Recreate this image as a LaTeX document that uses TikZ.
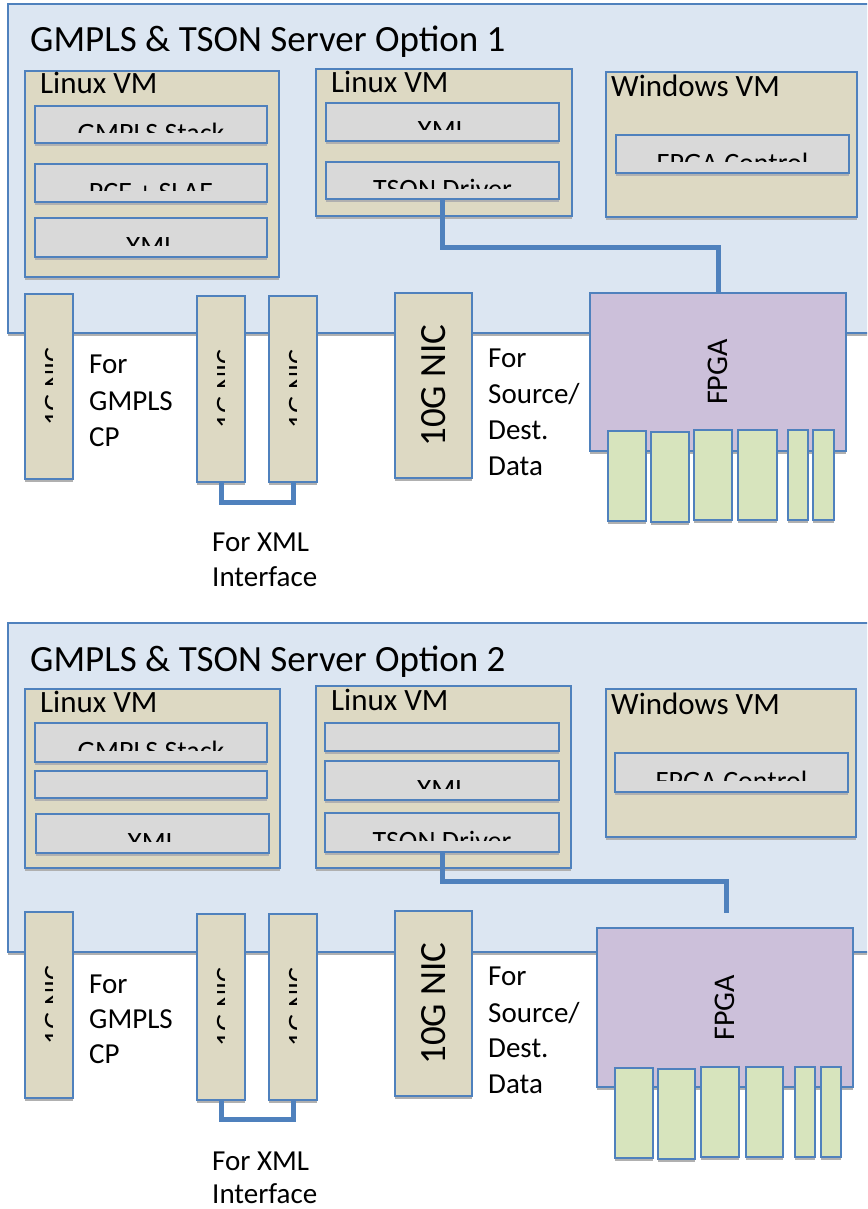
\documentclass[tikz,border=0pt]{standalone}
\usepackage{fontspec}
\setmainfont{Carlito}
\definecolor{panelblue}{HTML}{DCE6F2}
\definecolor{bordblue}{HTML}{4F81BD}
\definecolor{tanc}{HTML}{DDD9C3}
\definecolor{grayc}{HTML}{D9D9D9}
\definecolor{purplec}{HTML}{CCC0DA}
\definecolor{greenc}{HTML}{D7E4BD}
\definecolor{shadowc}{HTML}{B0B0B0}
\tikzset{
  basebox/.style={draw=bordblue, line width=1.8pt, inner sep=0pt, outer sep=0pt},
  panel/.style={basebox, fill=panelblue},
  vm/.style={basebox, fill=tanc},
  inbox/.style={basebox, fill=grayc},
  nicbox/.style={basebox, fill=tanc},
  fpgabox/.style={basebox, fill=purplec},
  portbox/.style={basebox, fill=greenc},
  conn/.style={draw=bordblue, line width=5pt},
  titletext/.style={inner sep=0pt, font=\fontsize{37}{44}\selectfont},
  vmtext/.style={inner sep=0pt, font=\fontsize{31}{37}\selectfont},
  intext/.style={inner sep=0pt, font=\fontsize{28}{34}\selectfont},
  sidetext/.style={inner sep=0pt, anchor=base west, font=\fontsize{29}{35}\selectfont},
  bigrot/.style={inner sep=0pt, rotate=90, font=\fontsize{37}{44}\selectfont},
  fpgatext/.style={inner sep=0pt, rotate=90, font=\fontsize{30}{36}\selectfont},
}
\newcommand\mkbox[6]{%
  \fill[shadowc] (#3,#6) rectangle (#5,#6+3);
  \node[#2, anchor=north west, minimum width={#5-#3}, minimum height={#6-#4}] (#1) at (#3,#4) {};}
\newcommand\cliptext[3]{%
  \begin{scope}
    \clip (#2.north west) rectangle ([yshift=-27pt]#2.north east);
    \node[intext, anchor=base] (#1) at ([yshift=-37pt]#2.north) {#3};
  \end{scope}}
\newcommand\cliprot[3]{%
  \begin{scope}
    \clip (#2.north west) rectangle ([xshift=27pt]#2.south west);
    \node[intext, rotate=90, anchor=base] (#1) at ([xshift=38pt]#2.west) {#3};
  \end{scope}}
\begin{document}
\begin{tikzpicture}[x=1pt,y=-1pt]
\clip (0,0) rectangle (867,1209);
\fill[white] (0,0) rectangle (867,1209);

%%%%%%%%%%%%%%%% OPTION 1 %%%%%%%%%%%%%%%%
\mkbox{panelA}{panel}{8}{4}{885}{333}
\node[titletext, anchor=base west] (titleA) at (30,52) {GMPLS \& TSON Server Option 1};

% Linux VM 1
\mkbox{lvmAa}{vm}{25}{71}{279}{277}
\node[vmtext, anchor=base west] (lvmAalbl) at (40,94) {Linux VM};
\mkbox{gsA}{inbox}{35}{106}{267}{143}
\cliptext{gsAt}{gsA}{GMPLS Stack}
\mkbox{pceA}{inbox}{35}{164}{267}{202}
\cliptext{pceAt}{pceA}{PCE + SLAE}
\mkbox{xmlaA}{inbox}{35}{218}{267}{257}
\cliptext{xmlaAt}{xmlaA}{XML}

% Linux VM 2
\mkbox{lvmAb}{vm}{316}{69}{572}{216}
\node[vmtext, anchor=base west] (lvmAblbl) at (331,93) {Linux VM};
\mkbox{xmlbA}{inbox}{326}{103}{559}{141}
\cliptext{xmlbAt}{xmlbA}{XML}
\mkbox{tsonA}{inbox}{326}{162}{559}{199}
\cliptext{tsonAt}{tsonA}{TSON Driver}

% Windows VM
\mkbox{wvmA}{vm}{606}{72}{857}{217}
\node[vmtext, anchor=base west] (wvmAlbl) at (611,97) {Windows VM};
\mkbox{fcA}{inbox}{616}{135}{849}{173}
\cliptext{fcAt}{fcA}{FPGA Control}

% NICs
\mkbox{nicaA}{nicbox}{25}{294}{73}{479}
\cliprot{nicaAt}{nicaA}{1G NIC}
\mkbox{nicbA}{nicbox}{197}{296}{245}{482}
\cliprot{nicbAt}{nicbA}{1G NIC}
\mkbox{niccA}{nicbox}{269}{296}{317}{482}
\cliprot{niccAt}{niccA}{1G NIC}
\mkbox{tenA}{nicbox}{395}{293}{472}{478}
\node[bigrot] (tenAt) at (tenA.center) {10G NIC};

% FPGA
\mkbox{fpgaA}{fpgabox}{590}{293}{846}{451}
\node[fpgatext] (fpgaAt) at (fpgaA.center) {FPGA};
\mkbox{pA1}{portbox}{608}{431}{646}{521}
\mkbox{pA2}{portbox}{651}{432}{689}{522}
\mkbox{pA3}{portbox}{694}{430}{732}{520}
\mkbox{pA4}{portbox}{738}{430}{777}{520}
\mkbox{pA5}{portbox}{788}{430}{808}{520}
\mkbox{pA6}{portbox}{813}{430}{834}{520}

% connectors
\draw[conn] (tsonA.south) -- ++(0,48) -| (fpgaA.north);
\draw[conn] (nicbA.south) -- ++(0,20) -| (niccA.south);

% labels
\node[sidetext] (gcpA1) at (89,373) {For};
\node[sidetext] (gcpA2) at (89,410) {GMPLS};
\node[sidetext] (gcpA3) at (89,446) {CP};
\node[sidetext] (srcA1) at (488,367) {For};
\node[sidetext] (srcA2) at (488,403) {Source/};
\node[sidetext] (srcA3) at (488,439) {Dest.};
\node[sidetext] (srcA4) at (488,475) {Data};
\node[sidetext] (xifA1) at (212,551) {For XML};
\node[sidetext] (xifA2) at (212,586) {Interface};

%%%%%%%%%%%%%%%% OPTION 2 %%%%%%%%%%%%%%%%
\mkbox{panelB}{panel}{8}{623}{885}{952}
\node[titletext, anchor=base west] (titleB) at (30,671) {GMPLS \& TSON Server Option 2};

% Linux VM 1
\mkbox{lvmBa}{vm}{25}{689}{280}{868}
\node[vmtext, anchor=base west] (lvmBalbl) at (40,712) {Linux VM};
\mkbox{gsB}{inbox}{35}{723}{267}{762}
\cliptext{gsBt}{gsB}{GMPLS Stack}
\mkbox{emB}{inbox}{35}{771}{267}{798}
\mkbox{xmlaB}{inbox}{36}{814}{269}{853}
\cliptext{xmlaBt}{xmlaB}{XML}

% Linux VM 2
\mkbox{lvmBb}{vm}{316}{686}{571}{868}
\node[vmtext, anchor=base west] (lvmBblbl) at (331,710) {Linux VM};
\mkbox{embB}{inbox}{325}{723}{559}{751}
\mkbox{xmlbB}{inbox}{325}{761}{559}{800}
\cliptext{xmlbBt}{xmlbB}{XML}
\mkbox{tsonB}{inbox}{325}{813}{559}{852}
\cliptext{tsonBt}{tsonB}{TSON Driver}

% Windows VM
\mkbox{wvmB}{vm}{606}{689}{856}{837}
\node[vmtext, anchor=base west] (wvmBlbl) at (611,714) {Windows VM};
\mkbox{fcB}{inbox}{615}{753}{848}{792}
\cliptext{fcBt}{fcB}{FPGA Control}

% NICs
\mkbox{nicaB}{nicbox}{25}{912}{73}{1098}
\cliprot{nicaBt}{nicaB}{1G NIC}
\mkbox{nicbB}{nicbox}{197}{914}{245}{1100}
\cliprot{nicbBt}{nicbB}{1G NIC}
\mkbox{niccB}{nicbox}{269}{914}{317}{1100}
\cliprot{niccBt}{niccB}{1G NIC}
\mkbox{tenB}{nicbox}{395}{911}{472}{1096}
\node[bigrot] (tenBt) at (tenB.center) {10G NIC};

% FPGA
\mkbox{fpgaB}{fpgabox}{597}{928}{853}{1087}
\node[fpgatext] (fpgaBt) at (fpgaB.center) {FPGA};
\mkbox{pB1}{portbox}{615}{1068}{653}{1158}
\mkbox{pB2}{portbox}{658}{1069}{695}{1159}
\mkbox{pB3}{portbox}{701}{1067}{739}{1157}
\mkbox{pB4}{portbox}{746}{1067}{783}{1157}
\mkbox{pB5}{portbox}{795}{1067}{815}{1157}
\mkbox{pB6}{portbox}{821}{1067}{841}{1157}

% connectors
\coordinate (cendB) at (726,913);
\draw[conn] (tsonB.south) -- ++(0,29) -| (cendB);
\draw[conn] (nicbB.south) -- ++(0,19) -| (niccB.south);

% labels
\node[sidetext] (gcpB1) at (89,993) {For};
\node[sidetext] (gcpB2) at (89,1028) {GMPLS};
\node[sidetext] (gcpB3) at (89,1063) {CP};
\node[sidetext] (srcB1) at (488,985) {For};
\node[sidetext] (srcB2) at (488,1022) {Source/};
\node[sidetext] (srcB3) at (488,1057) {Dest.};
\node[sidetext] (srcB4) at (488,1093) {Data};
\node[sidetext] (xifB1) at (212,1170) {For XML};
\node[sidetext] (xifB2) at (212,1203) {Interface};
\end{tikzpicture}
\end{document}
